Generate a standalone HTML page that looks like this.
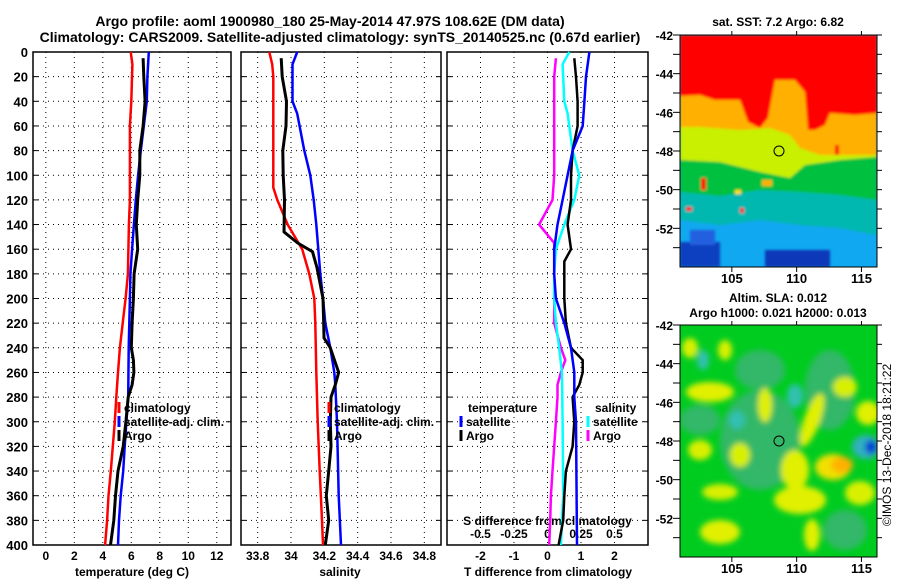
<!DOCTYPE html>
<html><head><meta charset="utf-8"><style>
body{margin:0;background:#fff;}
svg{display:block;font-family:"Liberation Sans",sans-serif;font-weight:bold;}
text{fill:#000;}
</style></head><body>
<svg id="c" width="900" height="580" viewBox="0 0 900 580" xmlns="http://www.w3.org/2000/svg">
<defs>
<filter id="bl" x="-20%" y="-20%" width="140%" height="140%"><feGaussianBlur stdDeviation="3"/></filter>
<filter id="bl2"><feGaussianBlur stdDeviation="1.2"/></filter>
<clipPath id="cm1"><rect x="680" y="35" width="197" height="232"/></clipPath>
<clipPath id="cm2"><rect x="680" y="325" width="197" height="232"/></clipPath>
</defs>
<text x="330" y="26" font-size="14" text-anchor="middle">Argo profile: aoml 1900980_180 25-May-2014 47.97S 108.62E (DM data)</text>
<text x="340" y="42" font-size="14" text-anchor="middle">Climatology: CARS2009. Satellite-adjusted climatology: synTS_20140525.nc (0.67d earlier)</text>

<!-- SST map -->
<g clip-path="url(#cm1)">
<rect x="680" y="35" width="197" height="232" fill="#10a8f0"/>
<g filter="url(#bl2)">
<rect x="680" y="242" width="40" height="25" fill="#1040c0"/>
<rect x="765" y="250" width="65" height="17" fill="#1038b8"/>
<rect x="690" y="230" width="25" height="15" fill="#2060e0"/>
<polygon points="680,35 877,35 877,235 840,228 800,225 760,220 720,225 680,220" fill="#00b8b0"/>
<polygon points="680,35 877,35 877,200 840,195 800,192 760,190 720,196 680,192" fill="#00c040"/>
<polygon points="680,35 877,35 877,157 840,160 805,165 790,178 760,172 720,162 680,160" fill="#c8f000"/>
<polygon points="680,35 877,35 877,155 820,155 800,148 790,135 770,128 740,130 700,127 680,127" fill="#ffb000"/>
<polygon points="680,35 877,35 877,113 855,115 830,113 825,125 815,130 808,130 805,92 795,80 775,80 768,118 760,128 748,122 740,100 715,100 700,95 680,96" fill="#ff0000"/>
<rect x="701" y="178" width="5" height="12" fill="#ff0000"/>
<rect x="686" y="207" width="6" height="4" fill="#ff0000"/>
<rect x="740" y="208" width="4" height="5" fill="#ff0000"/>
<rect x="762" y="180" width="10" height="6" fill="#ffb000"/>
<rect x="735" y="190" width="6" height="4" fill="#ffe000"/>
<rect x="835" y="145" width="4" height="10" fill="#ff0000"/>
</g>
<circle cx="779" cy="151" r="5" fill="none" stroke="#000" stroke-width="1"/>
</g>
<rect x="680" y="35" width="197" height="232" fill="none" stroke="#000"/>
<text x="778" y="26" font-size="12" text-anchor="middle">sat. SST: 7.2 Argo: 6.82</text>

<!-- SLA map -->
<g clip-path="url(#cm2)">
<rect x="680" y="325" width="197" height="232" fill="#00cc20"/>
<g filter="url(#bl)">
<ellipse cx="760" cy="440" rx="40" ry="50" fill="#30b868"/>
<ellipse cx="830" cy="390" rx="25" ry="40" fill="#30b868"/>
<ellipse cx="700" cy="420" rx="20" ry="15" fill="#30b868"/>
<ellipse cx="760" cy="370" rx="25" ry="20" fill="#30b868"/>
<ellipse cx="845" cy="530" rx="22" ry="20" fill="#30b868"/>
<ellipse cx="710" cy="392" rx="24" ry="10" fill="#e0f000"/>
<ellipse cx="765" cy="405" rx="7" ry="17" fill="#e0f000"/>
<ellipse cx="812" cy="420" rx="8" ry="28" fill="#e0f000" transform="rotate(20 812 420)"/>
<ellipse cx="795" cy="470" rx="14" ry="20" fill="#e0f000"/>
<ellipse cx="800" cy="500" rx="26" ry="14" fill="#e0f000"/>
<ellipse cx="812" cy="535" rx="8" ry="16" fill="#e0f000"/>
<ellipse cx="868" cy="413" rx="12" ry="12" fill="#e0f000"/>
<ellipse cx="700" cy="450" rx="12" ry="10" fill="#d8f000"/>
<ellipse cx="740" cy="455" rx="10" ry="12" fill="#d8f000"/>
<ellipse cx="720" cy="492" rx="18" ry="8" fill="#d8f000"/>
<ellipse cx="720" cy="532" rx="20" ry="12" fill="#e0f000"/>
<ellipse cx="860" cy="493" rx="15" ry="12" fill="#d8f000"/>
<ellipse cx="690" cy="348" rx="8" ry="10" fill="#d8f000"/>
<ellipse cx="725" cy="350" rx="7" ry="10" fill="#d8f000"/>
<ellipse cx="845" cy="387" rx="12" ry="10" fill="#d8f000"/>
<ellipse cx="833" cy="467" rx="18" ry="13" fill="#f0e000"/>
<ellipse cx="842" cy="465" rx="11" ry="8" fill="#ffb000"/>
<ellipse cx="703" cy="360" rx="6" ry="10" fill="#30c0b0"/>
<ellipse cx="737" cy="420" rx="8" ry="9" fill="#30c0b0"/>
<ellipse cx="795" cy="396" rx="8" ry="12" fill="#30c0b0"/>
<ellipse cx="866" cy="447" rx="14" ry="12" fill="#30b0c0"/>
<ellipse cx="871" cy="447" rx="6" ry="7" fill="#0040d0"/>
</g>
<circle cx="779" cy="441" r="5" fill="none" stroke="#000" stroke-width="1"/>
</g>
<rect x="680" y="325" width="197" height="232" fill="none" stroke="#000"/>
<text x="778" y="302" font-size="12" text-anchor="middle">Altim. SLA: 0.012</text>
<text x="778" y="317" font-size="12" text-anchor="middle">Argo h1000: 0.021 h2000: 0.013</text>
<text x="0" y="0" font-size="12" font-weight="normal" text-anchor="middle" transform="translate(891,445) rotate(-90)">©IMOS 13-Dec-2018 18:21:22</text>
<g id="g"></g>
</svg>
<script>
// depth axis shared
const depthTicks=[0,20,40,60,80,100,120,140,160,180,200,220,240,260,280,300,320,340,360,380,400];
// temperature profiles
const climDepth=[0,10,40,60,120,140,180,200,220,240,260,280,300,320,340,360,380,400];
const climTemp=[5.96,6.08,6.0,5.9,5.9,5.83,5.76,5.6,5.4,5.2,5.07,4.95,4.84,4.7,4.56,4.4,4.3,4.16];
const satDepth=[0,20,40,60,80,100,120,140,160,180,200,240,280,300,320,340,360,380,400];
const satTemp=[7.23,7.13,7.09,6.88,6.67,6.48,6.32,6.18,6.06,5.94,5.9,5.82,5.78,5.66,5.54,5.43,5.26,5.14,5.07];
const argoTDepth=[5,20,40,60,80,100,120,140,160,180,200,220,240,250,260,270,280,300,320,340,360,380,400];
const argoTemp=[6.83,6.88,6.97,6.83,6.6,6.6,6.45,6.35,6.45,6.2,6.15,6.06,6.0,6.15,6.18,6.06,5.78,5.62,5.43,5.07,4.89,4.77,4.54];
// salinity profiles
const climSDepth=[0,10,20,110,120,140,160,180,200,220,260,300,340,380,400];
const climSal=[33.87,33.887,33.894,33.894,33.918,33.98,34.067,34.11,34.14,34.146,34.152,34.16,34.172,34.186,34.192];
const satSDepth=[0,10,40,50,80,100,120,140,180,200,220,240,260,270,300,360,400];
const satSal=[34.037,34.009,34.009,34.037,34.08,34.116,34.136,34.152,34.176,34.192,34.206,34.236,34.26,34.266,34.276,34.286,34.3];
const argoSDepth=[5,20,40,60,80,100,120,146,155,162,175,200,220,232,240,252,260,270,280,300,320,340,360,380,400];
const argoSal=[33.941,33.947,33.973,33.97,33.951,33.953,33.961,33.958,34.04,34.129,34.156,34.192,34.196,34.198,34.236,34.266,34.286,34.266,34.24,34.236,34.24,34.226,34.212,34.226,34.206];
// difference profiles
const tSatDiffDepth=[0,20,40,60,80,100,120,140,160,180,200,220,240,260,280,300,400];
const tSatDiff=[1.25,1.15,1.1,1.05,0.75,0.6,0.45,0.3,0.2,0.2,0.25,0.5,0.7,0.8,0.8,0.85,0.88];
const tArgoDiffDepth=[5,20,40,60,80,100,120,140,160,170,200,220,240,250,260,270,280,300,320,340,360,380,400];
const tArgoDiff=[0.8,0.85,0.9,0.9,0.75,0.7,0.7,0.6,0.7,0.5,0.5,0.55,0.7,1.05,1.05,0.95,0.75,0.8,0.75,0.55,0.5,0.47,0.33];
const sSatDiffDepth=[0,10,40,50,80,100,120,140,160,180,200,220,240,260,300,360,400];
const sSatDiff=[0.1625,0.1125,0.125,0.15,0.1875,0.2375,0.2,0.125,0.0625,0.05,0.05,0.0625,0.0875,0.1075,0.1125,0.117,0.1];
const sArgoDiffDepth=[5,20,100,120,130,140,150,155,200,220,240,250,260,270,280,300,320,340,360,380,400];
const sArgoDiff=[0.0625,0.05,0.05,0.0375,-0.0125,-0.0625,0.0125,0.05,0.05,0.05,0.1,0.1325,0.1,0.075,0.075,0.0625,0.05,0.0375,0.025,0.02,0.0125];
// axis ticks
const tTicks=[0,2,4,6,8,10,12];
const sTicks=[33.8,34,34.2,34.4,34.6,34.8];
const sTickLabels=["33.8","34","34.2","34.4","34.6","34.8"];
const dTicks=[-2,-1,0,1,2];
const sdTicks=[-0.5,-0.25,0,0.25,0.5];
const sdTickLabels=["-0.5","-0.25","0","0.25","0.5"];
const latTicks=[-42,-44,-46,-48,-50,-52];
const lonTicks=[105,110,115];

const NS='http://www.w3.org/2000/svg';
const G=document.getElementById('g');
function mk(tag,at,parent){const e=document.createElementNS(NS,tag);for(const k in at)e.setAttribute(k,at[k]);(parent||G).appendChild(e);return e;}
function txt(x,y,s,anchor,size,name){const t=mk('text',{x:x,y:y,'font-size':size||12,'text-anchor':anchor||'middle'});t.textContent=s;


return t;}
const Y0=52,Y1=545;
const yD=d=>Y0+(Y1-Y0)*d/400;
function lin(a0,a1,p0,p1){return v=>p0+(v-a0)*(p1-p0)/(a1-a0);}
const panels=[{x0:33,x1:231,name:'temperature-panel'},{x0:241,x1:441,name:'salinity-panel'},{x0:447,x1:648,name:'difference-panel'}];
const xT=lin(-0.9,13,33,231), xS=lin(33.7,34.9,241,441), xTd=lin(-3,3,447,648), xSd=lin(-0.75,0.75,447,648);

// grid + frames
panels.forEach((p,i)=>{
  const vx = i==0?tTicks.map(xT):i==1?sTicks.map(xS):dTicks.map(xTd);
  vx.forEach(x=>{const l=mk('line',{x1:x,x2:x,y1:Y0,y2:Y1,stroke:'#000','stroke-dasharray':'1,4','stroke-width':1});
    
    });
  depthTicks.forEach(d=>{const y=yD(d);
    const l=mk('line',{x1:p.x0,x2:p.x1,y1:y,y2:y,stroke:'#000','stroke-dasharray':'1,4','stroke-width':1});
    
    
    const t1=mk('line',{x1:p.x0,x2:p.x0+5,y1:y,y2:y,stroke:'#000'});
    
    
    const t2=mk('line',{x1:p.x1-5,x2:p.x1,y1:y,y2:y,stroke:'#000'});
    
    
  });
  const r=mk('rect',{x:p.x0,y:Y0,width:p.x1-p.x0,height:Y1-Y0,fill:'none',stroke:'#000','stroke-width':1.5});
  
  
});
depthTicks.forEach(d=>txt(28,yD(d)+5,String(d),'end',13,'depth-tick-label'));
tTicks.forEach(v=>txt(xT(v),560,String(v),'middle',12,'temperature-tick-label'));
sTicks.forEach((v,i)=>txt(xS(v),560,sTickLabels[i],'middle',12,'salinity-tick-label'));
dTicks.forEach(v=>txt(xTd(v),560,String(v),'middle',12,'t-difference-tick-label'));
sdTicks.forEach((v,i)=>txt(xSd(v),538,sdTickLabels[i],'middle',12,'s-difference-tick-label'));
txt(xSd(0),525,'S difference from climatology','middle',12,'s-difference-axis-title');
txt(132,576,'temperature (deg C)','middle',12,'temperature-axis-title');
txt(340,576,'salinity','middle',12,'salinity-axis-title');
txt(548,576,'T difference from climatology','middle',12,'t-difference-axis-title');

function line(ds,vs,xf,color,w,name){
  const pts=ds.map((d,i)=>xf(vs[i]).toFixed(1)+','+yD(d).toFixed(1)).join(' ');
  const p=mk('polyline',{points:pts,fill:'none',stroke:color,'stroke-width':w,'stroke-linejoin':'round'});
  
  
}
line(climDepth,climTemp,xT,'#ff0000',2.5,'temp-climatology-line');
line(satDepth,satTemp,xT,'#0000ff',2.5,'temp-satellite-line');
line(argoTDepth,argoTemp,xT,'#000',3,'temp-argo-line');
line(climSDepth,climSal,xS,'#ff0000',2.5,'sal-climatology-line');
line(satSDepth,satSal,xS,'#0000ff',2.5,'sal-satellite-line');
line(argoSDepth,argoSal,xS,'#000',3,'sal-argo-line');
line(sArgoDiffDepth,sArgoDiff,xSd,'#ff00ff',2.5,'sdiff-argo-line');
line(sSatDiffDepth,sSatDiff,xSd,'#00ffff',2.5,'sdiff-satellite-line');
line(tArgoDiffDepth,tArgoDiff,xTd,'#000',2.5,'tdiff-argo-line');
line(tSatDiffDepth,tSatDiff,xTd,'#0000ff',2.5,'tdiff-satellite-line');

function leg(x,y,color,label){
  const m=mk('line',{x1:x,x2:x,y1:y-10,y2:y+1,stroke:color,'stroke-width':3});
  
  
  txt(x+5,y,label,'start',12,'legend-entry');
}
leg(119,412,'#ff0000','climatology');leg(119,426,'#0000ff','satellite-adj. clim.');leg(119,440,'#000','Argo');
leg(329,412,'#ff0000','climatology');leg(329,426,'#0000ff','satellite-adj. clim.');leg(329,440,'#000','Argo');
txt(468,412,'temperature','start',12,'legend-title-temperature');
leg(461,426,'#0000ff','satellite');leg(461,440,'#000','Argo');
txt(595,412,'salinity','start',12,'legend-title-salinity');
leg(588,426,'#00ffff','satellite');leg(588,440,'#ff00ff','Argo');

// map axes
const xLon=lin(101,116.2,680,877);
[[35,267,283],[325,557,573]].forEach(([t,b,ly],mi)=>{
  const yLat=lin(-42,-54,t,b);
  for(let v=-42;v>=-53;v--){const y=yLat(v);
    const k=mk('line',{x1:673,x2:680,y1:y,y2:y,stroke:'#000'});
    
    
    const k2=mk('line',{x1:877,x2:882,y1:y,y2:y,stroke:'#000'});
    
    }
  latTicks.forEach(v=>txt(673,yLat(v)+5,String(v),'end',12,'latitude-tick-label'));
  lonTicks.forEach(v=>{const x=xLon(v);
    const k=mk('line',{x1:x,x2:x,y1:b,y2:b+5,stroke:'#000'});
    
    
    const k2=mk('line',{x1:x,x2:x,y1:t-4,y2:t,stroke:'#000'});
    
    
    txt(x,ly,String(v),'middle',13,'longitude-tick-label');});
});
</script>
</body></html>
